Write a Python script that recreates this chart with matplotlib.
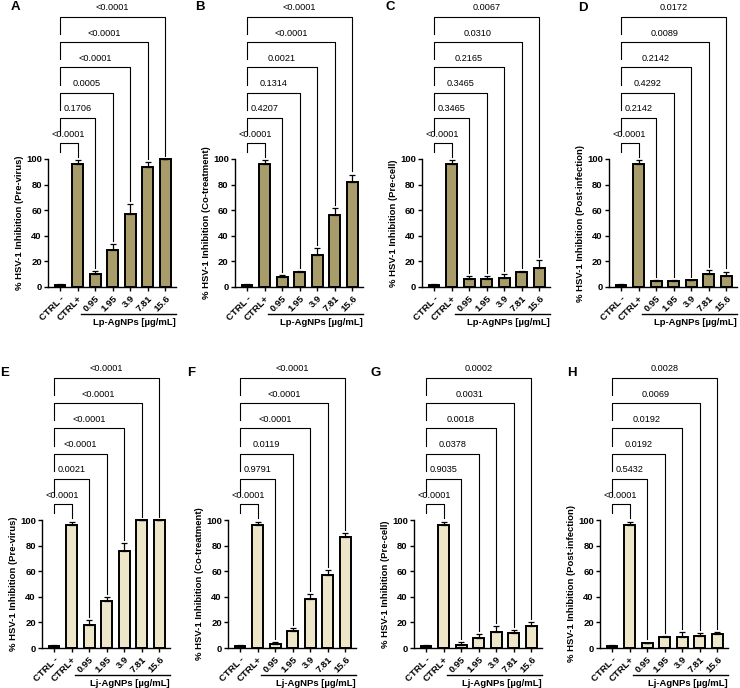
import matplotlib
matplotlib.use('Agg')
import matplotlib.pyplot as plt
import matplotlib.transforms as mtrans

plt.rcParams['font.family'] = ['Liberation Sans', 'DejaVu Sans']

# data
groups = ['CTRL -', 'CTRL+', '0.95', '1.95', '3.9', '7.81', '15.6']

lp_previrus = [1.2, 96.4, 10.2, 29.2, 57.0, 94.0, 100.0]
lp_previrus_err = [0.8, 2.5, 2.0, 4.4, 7.8, 3.4, 0.0]
lp_cotreat = [1.2, 96.4, 7.8, 11.5, 25.3, 56.0, 81.8]
lp_cotreat_err = [0.8, 2.5, 1.6, 1.0, 5.2, 5.7, 6.0]
lp_precell = [1.2, 96.4, 6.2, 6.2, 7.3, 11.5, 14.6]
lp_precell_err = [0.8, 2.5, 2.6, 2.6, 2.6, 1.0, 6.2]
lp_postinf = [1.2, 96.4, 4.9, 4.4, 5.2, 9.9, 8.8]
lp_postinf_err = [0.8, 2.5, 0.8, 0.8, 0.5, 3.4, 3.2]

lj_previrus = [1.2, 96.1, 18.2, 37.1, 76.1, 100.0, 100.0]
lj_previrus_err = [0.8, 2.6, 3.8, 2.4, 5.7, 0.0, 0.0]
lj_cotreat = [1.2, 96.1, 2.9, 13.0, 37.9, 57.1, 86.8]
lj_cotreat_err = [0.8, 2.6, 1.8, 2.6, 4.1, 3.7, 2.8]
lj_precell = [1.2, 96.1, 2.6, 7.8, 12.7, 11.7, 17.4]
lj_precell_err = [0.8, 2.6, 2.3, 3.1, 4.2, 2.3, 2.9]
lj_postinf = [1.2, 96.1, 3.9, 8.3, 8.3, 9.6, 11.2]
lj_postinf_err = [0.8, 2.6, 0.3, 1.3, 4.2, 1.8, 1.5]

p_a = ['<0.0001', '0.1706', '0.0005', '<0.0001', '<0.0001', '<0.0001']
p_b = ['<0.0001', '0.4207', '0.1314', '0.0021', '<0.0001', '<0.0001']
p_c = ['<0.0001', '0.3465', '0.3465', '0.2165', '0.0310', '0.0067']
p_d = ['<0.0001', '0.2142', '0.4292', '0.2142', '0.0089', '0.0172']
p_e = ['<0.0001', '0.0021', '<0.0001', '<0.0001', '<0.0001', '<0.0001']
p_f = ['<0.0001', '0.9791', '0.0119', '<0.0001', '<0.0001', '<0.0001']
p_g = ['<0.0001', '0.9035', '0.0378', '0.0018', '0.0031', '0.0002']
p_h = ['<0.0001', '0.5432', '0.0192', '0.0192', '0.0069', '0.0028']

lp_color = '#a99c6b'
lj_color = '#eee6c8'

panels = [
    ('A', lp_previrus, lp_previrus_err, p_a, 'Pre-virus', 'Lp', lp_color, 48, 287),
    ('B', lp_cotreat, lp_cotreat_err, p_b, 'Co-treatment', 'Lp', lp_color, 235, 287),
    ('C', lp_precell, lp_precell_err, p_c, 'Pre-cell', 'Lp', lp_color, 422, 287),
    ('D', lp_postinf, lp_postinf_err, p_d, 'Post-infection', 'Lp', lp_color, 609, 287),
    ('E', lj_previrus, lj_previrus_err, p_e, 'Pre-virus', 'Lj', lj_color, 42, 648),
    ('F', lj_cotreat, lj_cotreat_err, p_f, 'Co-treatment', 'Lj', lj_color, 228, 648),
    ('G', lj_precell, lj_precell_err, p_g, 'Pre-cell', 'Lj', lj_color, 414, 648),
    ('H', lj_postinf, lj_postinf_err, p_h, 'Post-infection', 'Lj', lj_color, 600, 648),
]
letter_pos = {'A': (15, 7), 'B': (200, 7), 'C': (390, 7), 'D': (583, 8),
              'E': (5, 373), 'F': (191, 373), 'G': (376, 373), 'H': (572, 373)}

W, H = 740, 688
fig = plt.figure(figsize=(W / 100, H / 100), dpi=100)

YTOP = 220
ax_w = 128
ax_h = 1.28 * YTOP
x = list(range(len(groups)))
fs = 6.8

for letter, vals, errs, pvals, cond, src, color, left, base in panels:
    ax = fig.add_axes([left / W, 1 - base / H, ax_w / W, ax_h / H])
    ax.bar(x, vals, width=0.62, color=color, edgecolor='black', linewidth=1.4, zorder=2)
    ax.errorbar(x, vals, yerr=[[0] * len(errs), errs], fmt='none', ecolor='black',
                elinewidth=0.9, capsize=2.2, capthick=0.9, zorder=3)
    ax.set_xlim(-0.68, 6.6)
    ax.set_ylim(0, YTOP)
    for s in ['top', 'right']:
        ax.spines[s].set_visible(False)
    ax.spines['left'].set_bounds(0, 100)
    ax.spines['left'].set_linewidth(1.0)
    ax.spines['bottom'].set_linewidth(1.0)
    ax.set_yticks([0, 20, 40, 60, 80, 100])
    ax.set_xticks(x)
    ax.set_xticklabels(groups, rotation=45, ha='right', rotation_mode='anchor',
                       fontsize=fs, fontweight='bold')
    ax.tick_params(axis='y', labelsize=fs, width=1.0, length=3, pad=1.5)
    ax.tick_params(axis='x', width=1.0, length=3, pad=2)
    for lab in ax.get_yticklabels():
        lab.set_fontweight('bold')

    tr = mtrans.blended_transform_factory(ax.transAxes, ax.transData)
    ax.text(-0.225, 50, '% HSV-1 Inhibition (' + cond + ')', transform=tr, rotation=90,
            ha='center', va='center', fontsize=fs, fontweight='bold')

    # group underline and label
    trx = mtrans.blended_transform_factory(ax.transData, ax.transAxes)
    ax.plot([1.2, 6.6], [-0.095, -0.095], transform=trx, color='black', lw=1.0, clip_on=False)
    ax.text(6.6, -0.11, src + '-AgNPs [µg/mL]', transform=trx, ha='right', va='top',
            fontsize=fs, fontweight='bold')

    # comparison brackets
    for j, p in enumerate(pvals):
        k = j + 1
        yb = 112.5 + 19.7 * j
        left_drop = 7 if j == 0 else 13.5
        right_end = vals[k] + errs[k] + 2.5
        ax.plot([0, 0, k, k], [yb - left_drop, yb, yb, right_end], color='black',
                lw=0.8, clip_on=False, zorder=1)
        ax.text(k / 2, yb + 3.5, p, ha='center', va='bottom', fontsize=6.6)

    lx, ly = letter_pos[letter]
    fig.text(lx / W, 1 - ly / H, letter, ha='center', va='center', fontsize=9.5, fontweight='bold')

fig.savefig('out.png', dpi=100)
